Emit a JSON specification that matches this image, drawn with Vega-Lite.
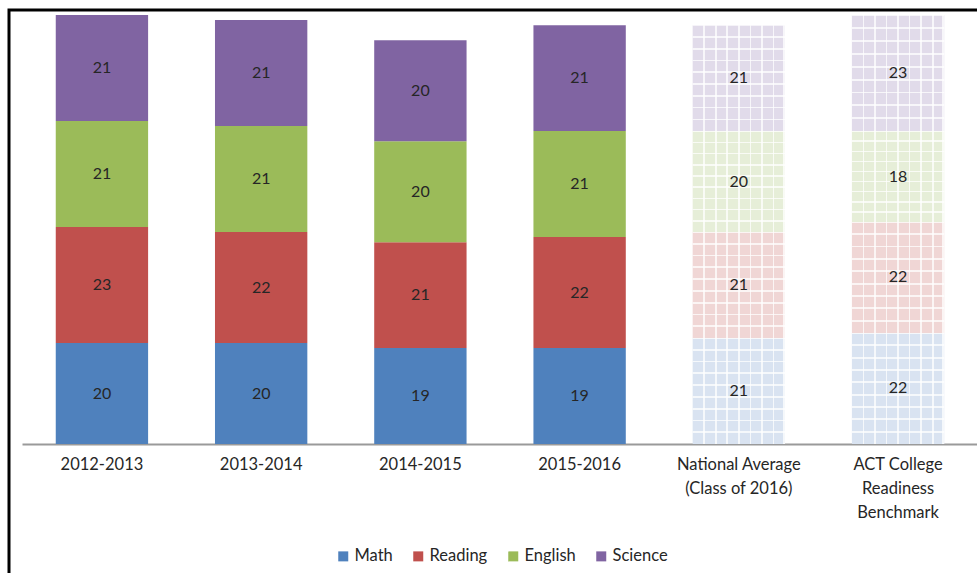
{
  "$schema": "https://vega.github.io/schema/vega-lite/v6.json",
  "width": 980,
  "height": 575,
  "autosize": "none",
  "padding": {"left": 9, "top": 10, "right": 0, "bottom": 0},
  "background": "white",
  "config": {"view": {"stroke": "#000", "strokeWidth": 3}, "font": "Lato"},
  "data": {"values": [
    {"year": "2012-2013", "subject": "Math", "score": 20},
    {"year": "2012-2013", "subject": "Reading", "score": 23},
    {"year": "2012-2013", "subject": "English", "score": 21},
    {"year": "2012-2013", "subject": "Science", "score": 21},
    {"year": "2013-2014", "subject": "Math", "score": 20},
    {"year": "2013-2014", "subject": "Reading", "score": 22},
    {"year": "2013-2014", "subject": "English", "score": 21},
    {"year": "2013-2014", "subject": "Science", "score": 21},
    {"year": "2014-2015", "subject": "Math", "score": 19},
    {"year": "2014-2015", "subject": "Reading", "score": 21},
    {"year": "2014-2015", "subject": "English", "score": 20},
    {"year": "2014-2015", "subject": "Science", "score": 20},
    {"year": "2015-2016", "subject": "Math", "score": 19},
    {"year": "2015-2016", "subject": "Reading", "score": 22},
    {"year": "2015-2016", "subject": "English", "score": 21},
    {"year": "2015-2016", "subject": "Science", "score": 21},
    {"year": "National Average|(Class of 2016)", "subject": "Math", "score": 21},
    {"year": "National Average|(Class of 2016)", "subject": "Reading", "score": 21},
    {"year": "National Average|(Class of 2016)", "subject": "English", "score": 20},
    {"year": "National Average|(Class of 2016)", "subject": "Science", "score": 21},
    {"year": "ACT College|Readiness|Benchmark", "subject": "Math", "score": 22},
    {"year": "ACT College|Readiness|Benchmark", "subject": "Reading", "score": 22},
    {"year": "ACT College|Readiness|Benchmark", "subject": "English", "score": 18},
    {"year": "ACT College|Readiness|Benchmark", "subject": "Science", "score": 23}
  ]},
  "transform": [
    {"calculate": "indexof(['Math','Reading','English','Science'], datum.subject)", "as": "ord"},
    {"stack": "score", "groupby": ["year"], "sort": [{"field": "ord", "order": "ascending"}], "as": ["y0", "y1"]},
    {"calculate": "(datum.y0 + datum.y1) / 2", "as": "ymid"}
  ],
  "encoding": {
    "x": {
      "field": "year", "type": "nominal", "sort": null,
      "scale": {"range": [13, 969], "paddingInner": 0.42, "paddingOuter": 0.212},
      "axis": {
        "title": null, "orient": "bottom", "offset": -141,
        "domainColor": "#9a9a9a", "domainWidth": 2, "ticks": false,
        "labelAngle": 0, "labelFontSize": 16.5, "labelColor": "#262626",
        "labelPadding": 12, "labelExpr": "split(datum.value, '|')",
        "labelLineHeight": 24
      }
    }
  },
  "layer": [
    {
      "transform": [{"filter": {"not": {"field": "year", "oneOf": ["National Average|(Class of 2016)", "ACT College|Readiness|Benchmark"]}}}],
      "mark": {"type": "bar"},
      "encoding": {
        "y": {"field": "y1", "type": "quantitative", "scale": {"domain": [-27.94, 86.0], "nice": false, "zero": false}, "axis": null},
        "y2": {"field": "y0"},
        "color": {
          "field": "subject", "type": "nominal",
          "scale": {"domain": ["Math", "Reading", "English", "Science"], "range": ["#4F81BD", "#C0504D", "#9BBB59", "#8064A2"]},
          "legend": {
            "orient": "none", "legendX": 326, "legendY": 538, "direction": "horizontal",
            "title": null, "symbolType": "square", "symbolSize": 100, "symbolStrokeWidth": 0,
            "labelFontSize": 16.5, "labelColor": "#262626", "columnPadding": 17, "labelOffset": 3
          }
        }
      }
    },
    {
      "transform": [{"filter": {"field": "year", "oneOf": ["National Average|(Class of 2016)", "ACT College|Readiness|Benchmark"]}}],
      "mark": {"type": "bar"},
      "encoding": {
        "y": {"field": "y1", "type": "quantitative", "scale": {"domain": [-27.94, 86.0], "nice": false, "zero": false}, "axis": null},
        "y2": {"field": "y0"},
        "fill": {
          "field": "subject", "type": "nominal",
          "scale": {"domain": ["Math", "Reading", "English", "Science"], "range": ["#D9E3F1", "#F0D6D5", "#E6EED8", "#E1DBEA"]},
          "legend": null
        }
      }
    },
    {
      "transform": [{"filter": {"field": "year", "oneOf": ["National Average|(Class of 2016)", "ACT College|Readiness|Benchmark"]}}],
      "mark": {"type": "bar", "fill": {"gradient": "linear", "x1": 0, "y1": 0, "x2": 1, "y2": 0, "stops": [
        {"offset": 0, "color": "rgba(255,255,255,0)"},
        {"offset": 0.116, "color": "rgba(255,255,255,0)"}, {"offset": 0.116, "color": "rgba(255,255,255,0.75)"},
        {"offset": 0.134, "color": "rgba(255,255,255,0.75)"}, {"offset": 0.134, "color": "rgba(255,255,255,0)"},
        {"offset": 0.241, "color": "rgba(255,255,255,0)"}, {"offset": 0.241, "color": "rgba(255,255,255,0.75)"},
        {"offset": 0.259, "color": "rgba(255,255,255,0.75)"}, {"offset": 0.259, "color": "rgba(255,255,255,0)"},
        {"offset": 0.366, "color": "rgba(255,255,255,0)"}, {"offset": 0.366, "color": "rgba(255,255,255,0.75)"},
        {"offset": 0.384, "color": "rgba(255,255,255,0.75)"}, {"offset": 0.384, "color": "rgba(255,255,255,0)"},
        {"offset": 0.491, "color": "rgba(255,255,255,0)"}, {"offset": 0.491, "color": "rgba(255,255,255,0.75)"},
        {"offset": 0.509, "color": "rgba(255,255,255,0.75)"}, {"offset": 0.509, "color": "rgba(255,255,255,0)"},
        {"offset": 0.616, "color": "rgba(255,255,255,0)"}, {"offset": 0.616, "color": "rgba(255,255,255,0.75)"},
        {"offset": 0.634, "color": "rgba(255,255,255,0.75)"}, {"offset": 0.634, "color": "rgba(255,255,255,0)"},
        {"offset": 0.741, "color": "rgba(255,255,255,0)"}, {"offset": 0.741, "color": "rgba(255,255,255,0.75)"},
        {"offset": 0.759, "color": "rgba(255,255,255,0.75)"}, {"offset": 0.759, "color": "rgba(255,255,255,0)"},
        {"offset": 0.866, "color": "rgba(255,255,255,0)"}, {"offset": 0.866, "color": "rgba(255,255,255,0.75)"},
        {"offset": 0.884, "color": "rgba(255,255,255,0.75)"}, {"offset": 0.884, "color": "rgba(255,255,255,0)"},
        {"offset": 0.98, "color": "rgba(255,255,255,0)"}, {"offset": 0.98, "color": "rgba(255,255,255,0.75)"},
        {"offset": 1, "color": "rgba(255,255,255,0.75)"}
      ]}},
      "encoding": {
        "y": {"field": "y1", "type": "quantitative", "scale": {"domain": [-27.94, 86.0], "nice": false, "zero": false}, "axis": null},
        "y2": {"field": "y0"}
      }
    },
    {
      "transform": [{"filter": {"field": "year", "oneOf": ["National Average|(Class of 2016)", "ACT College|Readiness|Benchmark"]}}],
      "mark": {"type": "bar", "fill": {"gradient": "linear", "x1": 0, "y1": 0, "x2": 0, "y2": 1, "stops": [
        {"offset": 0, "color": "rgba(255,255,255,0.75)"},
        {"offset": 0.01, "color": "rgba(255,255,255,0.75)"}, {"offset": 0.01, "color": "rgba(255,255,255,0)"},
        {"offset": 0.103, "color": "rgba(255,255,255,0)"}, {"offset": 0.103, "color": "rgba(255,255,255,0.75)"},
        {"offset": 0.119, "color": "rgba(255,255,255,0.75)"}, {"offset": 0.119, "color": "rgba(255,255,255,0)"},
        {"offset": 0.214, "color": "rgba(255,255,255,0)"}, {"offset": 0.214, "color": "rgba(255,255,255,0.75)"},
        {"offset": 0.230, "color": "rgba(255,255,255,0.75)"}, {"offset": 0.230, "color": "rgba(255,255,255,0)"},
        {"offset": 0.325, "color": "rgba(255,255,255,0)"}, {"offset": 0.325, "color": "rgba(255,255,255,0.75)"},
        {"offset": 0.341, "color": "rgba(255,255,255,0.75)"}, {"offset": 0.341, "color": "rgba(255,255,255,0)"},
        {"offset": 0.436, "color": "rgba(255,255,255,0)"}, {"offset": 0.436, "color": "rgba(255,255,255,0.75)"},
        {"offset": 0.452, "color": "rgba(255,255,255,0.75)"}, {"offset": 0.452, "color": "rgba(255,255,255,0)"},
        {"offset": 0.548, "color": "rgba(255,255,255,0)"}, {"offset": 0.548, "color": "rgba(255,255,255,0.75)"},
        {"offset": 0.564, "color": "rgba(255,255,255,0.75)"}, {"offset": 0.564, "color": "rgba(255,255,255,0)"},
        {"offset": 0.659, "color": "rgba(255,255,255,0)"}, {"offset": 0.659, "color": "rgba(255,255,255,0.75)"},
        {"offset": 0.675, "color": "rgba(255,255,255,0.75)"}, {"offset": 0.675, "color": "rgba(255,255,255,0)"},
        {"offset": 0.770, "color": "rgba(255,255,255,0)"}, {"offset": 0.770, "color": "rgba(255,255,255,0.75)"},
        {"offset": 0.786, "color": "rgba(255,255,255,0.75)"}, {"offset": 0.786, "color": "rgba(255,255,255,0)"},
        {"offset": 0.881, "color": "rgba(255,255,255,0)"}, {"offset": 0.881, "color": "rgba(255,255,255,0.75)"},
        {"offset": 0.897, "color": "rgba(255,255,255,0.75)"}, {"offset": 0.897, "color": "rgba(255,255,255,0)"},
        {"offset": 1, "color": "rgba(255,255,255,0)"}
      ]}},
      "encoding": {
        "y": {"field": "y1", "type": "quantitative", "scale": {"domain": [-27.94, 86.0], "nice": false, "zero": false}, "axis": null},
        "y2": {"field": "y0"}
      }
    },
    {
      "mark": {"type": "text", "fontSize": 16, "color": "#262626", "baseline": "middle"},
      "encoding": {
        "y": {"field": "ymid", "type": "quantitative", "scale": {"domain": [-27.94, 86.0], "nice": false, "zero": false}, "axis": null},
        "text": {"field": "score", "type": "quantitative"}
      }
    }
  ]
}
